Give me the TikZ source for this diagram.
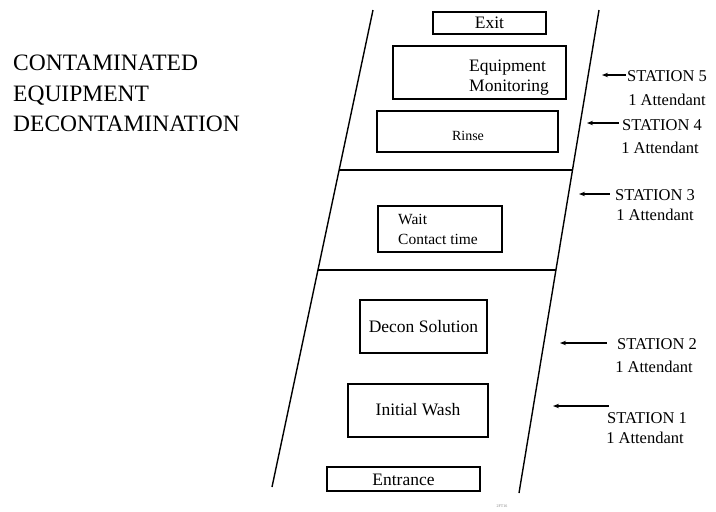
\documentclass[tikz,border=0pt]{standalone}
\usepackage{fontspec}
\setmainfont{Liberation Serif}
\usetikzlibrary{arrows.meta}
\begin{document}
\begin{tikzpicture}[x=1pt,y=-1pt,
  wall/.style={line width=1.4pt},
  box/.style={draw,line width=1.3pt,inner sep=0pt},
  boxtxt/.style={font=\fontsize{17.5}{20}\selectfont,inner sep=0pt},
  sttxt/.style={font=\fontsize{16.5}{19}\selectfont,inner sep=0pt},
  arr/.style={line width=1.1pt,-{Stealth[length=6pt,width=4.5pt]}}]
\useasboundingbox (0,0) rectangle (716,512);
% walls
\coordinate (LT) at (373,10);
\coordinate (LB) at (272,487);
\coordinate (RT) at (599,10);
\coordinate (RB) at (519,493);
\draw[wall] (LT) -- (LB);
\draw[wall] (RT) -- (RB);
\coordinate (H1L) at (339,170);
\coordinate (H1R) at (572.5,170);
\coordinate (H2L) at (318,270);
\coordinate (H2R) at (556,270);
\draw[wall] (H1L) -- (H1R);
\draw[wall] (H2L) -- (H2R);
% title
\node[anchor=north west,align=left,inner sep=0pt,font=\fontsize{23.5}{30.5}\selectfont] (title) at (13,55)
  {CONTAMINATED\\EQUIPMENT\\DECONTAMINATION};
% boxes
\node[box,minimum width=113pt,minimum height=22pt] (exit) at (489.5,23) {};
\node[boxtxt] (exitt) at (exit.center) {Exit};
\node[box,minimum width=173pt,minimum height=53pt] (eqm) at (479.5,72.5) {};
\node[boxtxt,anchor=west,align=left] (eqmt) at (469,78) {Equipment\\Monitoring};
\node[box,minimum width=181pt,minimum height=41pt] (rinse) at (467.5,131.5) {};
\node[inner sep=0pt,font=\fontsize{14}{16}\selectfont] (rinset) at (468,136) {Rinse};
\node[box,minimum width=124pt,minimum height=46pt] (wait) at (440,229) {};
\node[anchor=west,align=left,inner sep=0pt,font=\fontsize{15.5}{20}\selectfont] (waitt) at (398,229) {Wait\\Contact time};
\node[box,minimum width=127pt,minimum height=53pt] (decon) at (423.5,326.5) {};
\node[boxtxt] (decont) at (423.5,327) {Decon Solution};
\node[box,minimum width=140pt,minimum height=53pt] (wash) at (418,410.5) {};
\node[boxtxt] (washt) at (418,410) {Initial Wash};
\node[box,minimum width=153pt,minimum height=24pt] (ent) at (403.5,479) {};
\node[boxtxt] (entt) at (403.5,480) {Entrance};
% stations
\node[sttxt] (s5) at (667,76) {STATION 5};
\node[sttxt] (a5) at (667,100) {1 Attendant};
\node[sttxt] (s4) at (662,125) {STATION 4};
\node[sttxt] (a4) at (660,148) {1 Attendant};
\node[sttxt] (s3) at (655,195) {STATION 3};
\node[sttxt] (a3) at (655,215) {1 Attendant};
\node[sttxt] (s2) at (657,344) {STATION 2};
\node[sttxt] (a2) at (654,367) {1 Attendant};
\node[sttxt] (s1) at (647,418) {STATION 1};
\node[sttxt] (a1) at (645,438) {1 Attendant};
\coordinate (t5) at (602,75);
\coordinate (t4) at (587,123);
\coordinate (t3) at (579,194);
\coordinate (t2) at (560,343);
\coordinate (t1) at (553,406);
\draw[arr] ([xshift=-1pt]s5.west |- t5) -- (t5);
\draw[arr] ([xshift=-3pt]s4.west |- t4) -- (t4);
\draw[arr] ([xshift=-5pt]s3.west |- t3) -- (t3);
\draw[arr] ([xshift=-10pt]s2.west |- t2) -- (t2);
\draw[arr] ([xshift=2pt]s1.west |- t1) -- (t1);
% tiny figure code
\node[inner sep=0pt,font=\fontsize{4}{5}\selectfont,text=gray] (code) at (502,506) {2FT16};
\end{tikzpicture}
\end{document}
